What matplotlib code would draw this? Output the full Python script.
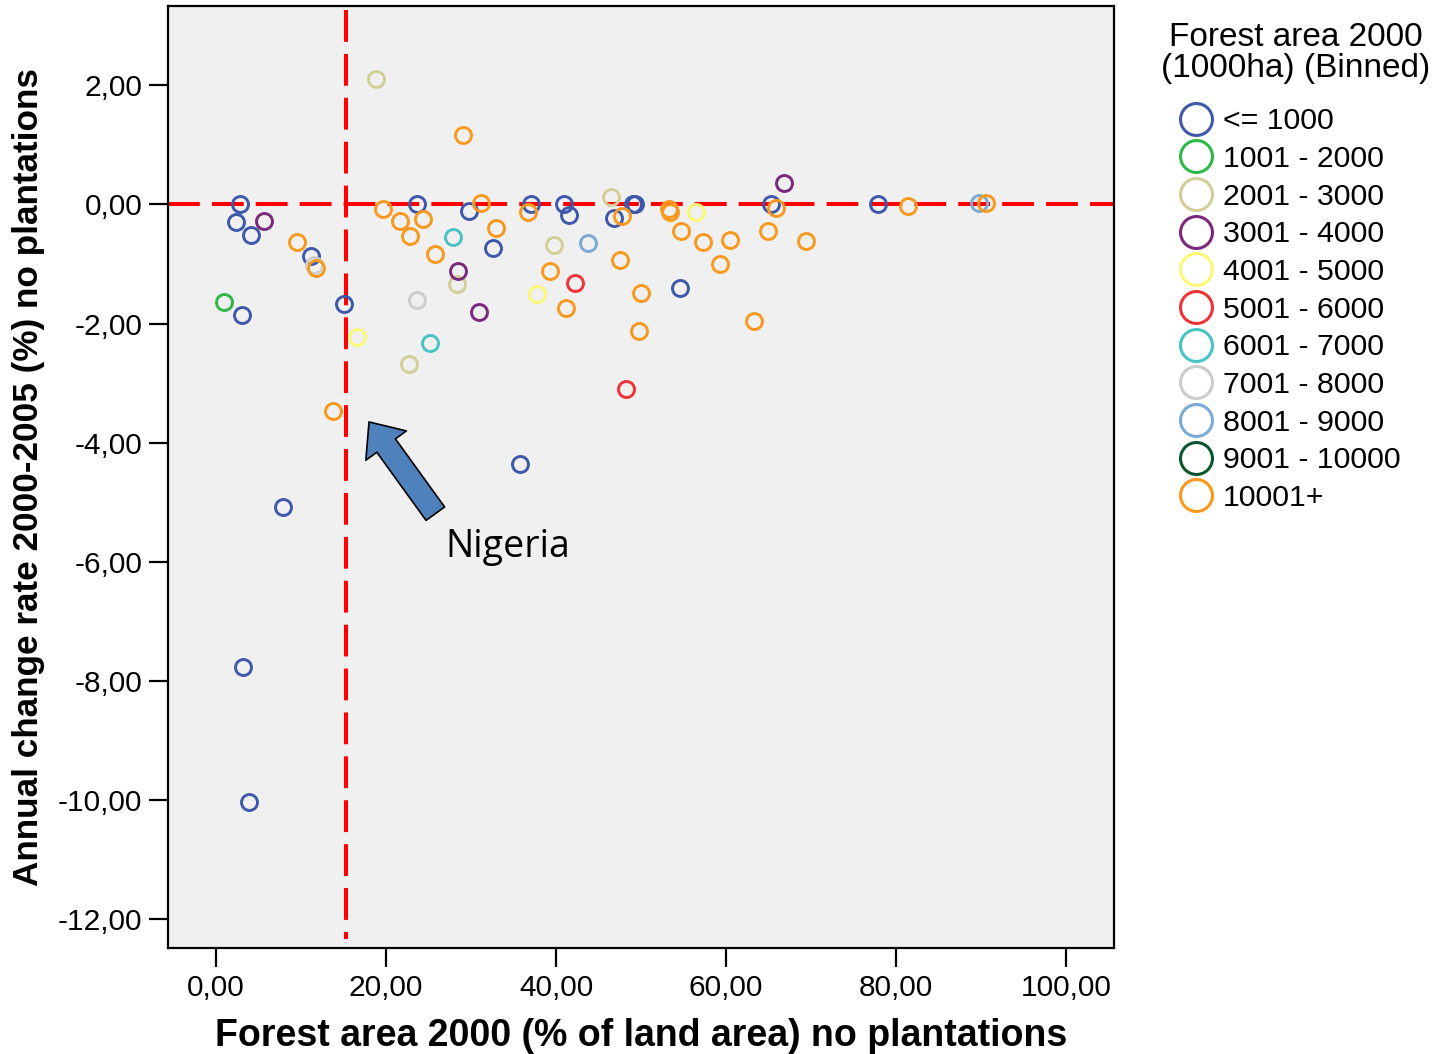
import matplotlib
matplotlib.use('Agg')
import matplotlib.pyplot as plt
from matplotlib.lines import Line2D

plt.rcParams['font.family'] = ['Liberation Sans', 'DejaVu Sans']

# ── Data ───────────────────────────────────────────────────────────────────────
bin_labels = ['<= 1000', '1001 - 2000', '2001 - 3000', '3001 - 4000', '4001 - 5000',
              '5001 - 6000', '6001 - 7000', '7001 - 8000', '8001 - 9000',
              '9001 - 10000', '10001+']
bin_colors = ['#3e58ac', '#2eb848', '#d3ce97', '#7c287d', '#fbf873',
              '#ef3338', '#48c2c5', '#cccccc', '#7aaad5', '#0a562c', '#f8981d']

# forest area 2000 (% of land area), annual change rate (%), bin index
forest_pct = [2.8, 2.3, 4.1, 11.2, 3.1, 15.05, 23.7, 29.7, 32.6, 37.0, 40.9, 41.5,
              46.8, 49.0, 49.3, 54.6, 65.3, 77.8, 35.7, 7.9, 3.2, 3.9,
              0.9,
              18.8, 28.3, 39.7, 46.4, 22.7,
              5.7, 28.5, 30.9, 66.8,
              37.8, 56.4, 16.6,
              42.2, 48.2,
              27.9, 25.2,
              11.5, 23.6,
              43.7, 89.7,
              29.1, 9.5, 11.8, 19.6, 21.6, 24.3, 22.8, 25.8, 31.2, 32.9, 36.7, 47.5,
              39.3, 41.2, 50.0, 47.8, 49.8, 53.3, 53.4, 54.7, 57.3, 60.4, 59.3, 65.8,
              64.9, 69.4, 63.3, 81.4, 90.5, 13.8]
change_rate = [0.00, -0.30, -0.52, -0.87, -1.85, -1.67, 0.00, -0.11, -0.73, 0.00, 0.00, -0.17,
               -0.23, 0.00, 0.00, -1.40, 0.00, 0.00, -4.35, -5.08, -7.77, -10.03,
               -1.63,
               2.10, -1.34, -0.68, 0.13, -2.68,
               -0.28, -1.12, -1.80, 0.36,
               -1.50, -0.13, -2.23,
               -1.31, -3.09,
               -0.55, -2.33,
               -1.01, -1.60,
               -0.65, 0.03,
               1.16, -0.63, -1.07, -0.07, -0.27, -0.24, -0.53, -0.83, 0.03, -0.39, -0.12, -0.93,
               -1.11, -1.73, -1.49, -0.20, -2.13, -0.07, -0.13, -0.44, -0.63, -0.60, -1.00, -0.06,
               -0.45, -0.62, -1.95, -0.03, 0.02, -3.47]
area_bin = [0] * 22 + [1] + [2] * 5 + [3] * 4 + [4] * 3 + [5] * 2 + [6] * 2 + [7] * 2 + [8] * 2 + [10] * 30

x_ticks = [0, 20, 40, 60, 80, 100]
y_ticks = [2, 0, -2, -4, -6, -8, -10, -12]
ref_x = 15.3   # Nigeria's forest share
nigeria_tip = (18.0, -3.65)
nigeria_tail = (25.8, -5.19)

# ── Figure ─────────────────────────────────────────────────────────────────────
fig = plt.figure(figsize=(14.37, 10.54), dpi=100)
fig.patch.set_facecolor('white')
ax = fig.add_axes([0.1169, 0.1006, 0.6583, 0.8936])
ax.set_facecolor('#f0f0f0')

for b in range(len(bin_labels)):
    xs = [x for x, k in zip(forest_pct, area_bin) if k == b]
    ys = [y for y, k in zip(change_rate, area_bin) if k == b]
    if xs:
        ax.plot(xs, ys, linestyle='none', marker='o', ms=11.5, mfc='none',
                mec=bin_colors[b], mew=2.1, zorder=3 + b * 0.01)

# reference lines
dash = (0, (7.9, 3.0))
ax.axhline(0, color='#ff0000', lw=2.9, linestyle=dash, zorder=2)
ax.plot([ref_x, ref_x], [3.27, -12.33], color='#ff0000', lw=2.9, linestyle=dash, zorder=2)

# Nigeria arrow
ax.annotate('', xy=nigeria_tip, xytext=nigeria_tail,
            arrowprops=dict(arrowstyle='simple,head_width=36,head_length=21,tail_width=16.5',
                            mutation_scale=1, fc='#4f81bd', ec='black', lw=1.2,
                            shrinkA=0, shrinkB=0), zorder=5)
ax.text(27.0, -5.92, 'Nigeria', fontsize=27, family=['Open Sans', 'DejaVu Sans'],
        ha='left', va='baseline', color='black', zorder=5)

ax.set_xlim(-5.64, 105.6)
ax.set_ylim(-12.48, 3.33)
ax.set_xticks(x_ticks)
ax.set_xticklabels([f'{v:.2f}'.replace('.', ',') for v in x_ticks])
ax.set_yticks(y_ticks)
ax.set_yticklabels([f'{v:.2f}'.replace('.', ',') for v in y_ticks])
ax.tick_params(direction='out', length=13.5, width=1.6, labelsize=21.5, pad=5, colors='black')
for s in ax.spines.values():
    s.set_linewidth(1.6)
    s.set_color('black')

ax.set_xlabel('Forest area 2000 (% of land area) no plantations', fontsize=27,
              fontweight='bold', labelpad=12)
ax.set_ylabel('Annual change rate 2000-2005 (%) no plantations', fontsize=25.3,
              fontweight='bold', labelpad=9)

# legend
fig.text(1296 / 1437, 1 - 53 / 1054, 'Forest area 2000\n(1000ha) (Binned)', fontsize=24,
         ha='center', va='center', multialignment='center', linespacing=1.0)
handles = [Line2D([], [], linestyle='none', marker='o', ms=23, mfc='none',
                  mec=c, mew=2.2) for c in bin_colors]
leg = fig.legend(handles, bin_labels, loc='upper left', bbox_to_anchor=(0.8046, 1 - 86 / 1054),
                 fontsize=21.8, frameon=False, handletextpad=0.3,
                 labelspacing=0.32, borderpad=0.2, handlelength=1.2)

plt.savefig('out.png', dpi=100)
